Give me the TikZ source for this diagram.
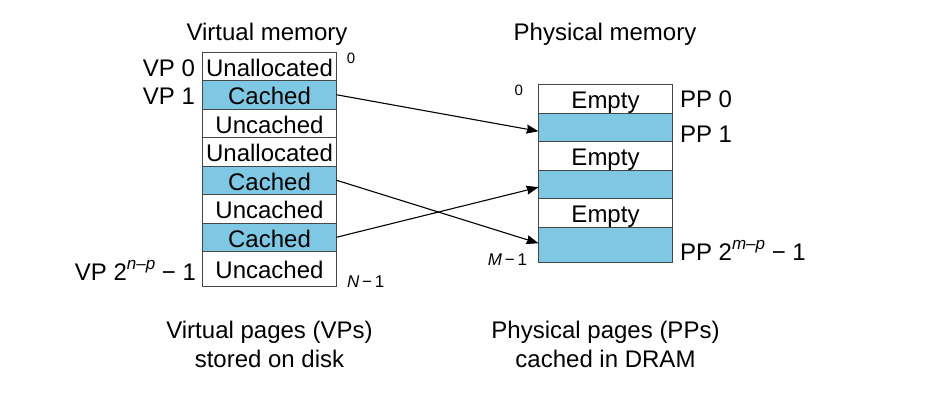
\documentclass[tikz,border=0pt]{standalone}
\usepackage{fontspec}
\setmainfont{Liberation Sans}
\usetikzlibrary{arrows.meta}

\definecolor{pagefill}{RGB}{126,200,227}
\definecolor{cellline}{RGB}{70,70,70}

% n-p style exponent: small italic, raised
\newcommand{\pexp}[1]{\raisebox{0.45em}{\fontsize{17}{18}\selectfont\itshape #1}}

\begin{document}
\begin{tikzpicture}[x=1pt, y=-1pt,
  cell/.style={draw=cellline, line width=0.9pt, minimum width=134pt,
    minimum height=28.5pt, anchor=north west, inner sep=0pt, outer sep=0pt,
    text height=22.5pt, text depth=3pt,
    font={\fontsize{24}{28}\selectfont}},
  lastcell/.style={cell, minimum height=34.5pt},
  incache/.style={fill=pagefill},
  txt/.style={inner sep=0pt, outer sep=0pt, font={\fontsize{24}{28}\selectfont}},
  idx/.style={inner sep=0pt, outer sep=0pt, font={\fontsize{15}{17}\selectfont}},
  bound/.style={inner sep=0pt, outer sep=0pt, font={\fontsize{17}{19}\selectfont}},
  ptr/.style={-{Stealth[length=12pt, width=9pt, inset=1pt]}, line width=1.1pt, black}
]
\useasboundingbox (0,0) rectangle (948,410);

% headers
\node[txt, anchor=base] (vhead) at (267,40) {Virtual memory};
\node[txt, anchor=base] (phead) at (605,40) {Physical memory};

% virtual pages
\node[cell] (v0) at (202.5,52) {Unallocated};
\node[cell, incache] (v1) at (202.5,80.5) {Cached};
\node[cell] (v2) at (202.5,109) {Uncached};
\node[cell] (v3) at (202.5,137.5) {Unallocated};
\node[cell, incache] (v4) at (202.5,166) {Cached};
\node[cell] (v5) at (202.5,194.5) {Uncached};
\node[cell, incache] (v6) at (202.5,223) {Cached};
\node[lastcell] (v7) at (202.5,251.5) {Uncached};

\node[txt, anchor=base east] (vp0) at (195,76) {VP 0};
\node[txt, anchor=base east] (vp1) at (195,104) {VP 1};
\node[txt, anchor=base east] (vpn) at (196,280) {VP 2\pexp{n–p} − 1};
\node[idx, anchor=base] (vzero) at (351,63) {0};
\node[bound, anchor=base west] (vmax) at (347,287) {\textit{N}\,−\,1};

% physical pages
\node[cell] (p0) at (538.5,84.5) {Empty};
\node[cell, incache] (p1) at (538.5,113) {};
\node[cell] (p2) at (538.5,141.5) {Empty};
\node[cell, incache] (p3) at (538.5,170) {};
\node[cell] (p4) at (538.5,198.5) {Empty};
\node[lastcell, incache, minimum height=35.5pt] (p5) at (538.5,227) {};

\node[txt, anchor=base west] (pp0) at (680,107) {PP 0};
\node[txt, anchor=base west] (pp1) at (680,142) {PP 1};
\node[txt, anchor=base west] (ppm) at (680,260) {PP 2\pexp{m–p} − 1};
\node[idx, anchor=base east] (pzero) at (523,95) {0};
\node[bound, anchor=base east] (pmax) at (527,265) {\textit{M}\,−\,1};

% captions
\node[txt, anchor=base] (vcap1) at (269.5,338) {Virtual pages (VPs)};
\node[txt, anchor=base] (vcap2) at (269.5,367) {stored on disk};
\node[txt, anchor=base] (pcap1) at (605.5,338) {Physical pages (PPs)};
\node[txt, anchor=base] (pcap2) at (605.5,367) {cached in DRAM};

% page table mappings
\draw[ptr] (v1.east) -- ([yshift=-4pt]p1.west);
\draw[ptr] (v4.east) -- ([yshift=1.5pt]p5.west);
\draw[ptr] (v6.east) -- ([yshift=-3pt]p3.west);
\end{tikzpicture}
\end{document}
